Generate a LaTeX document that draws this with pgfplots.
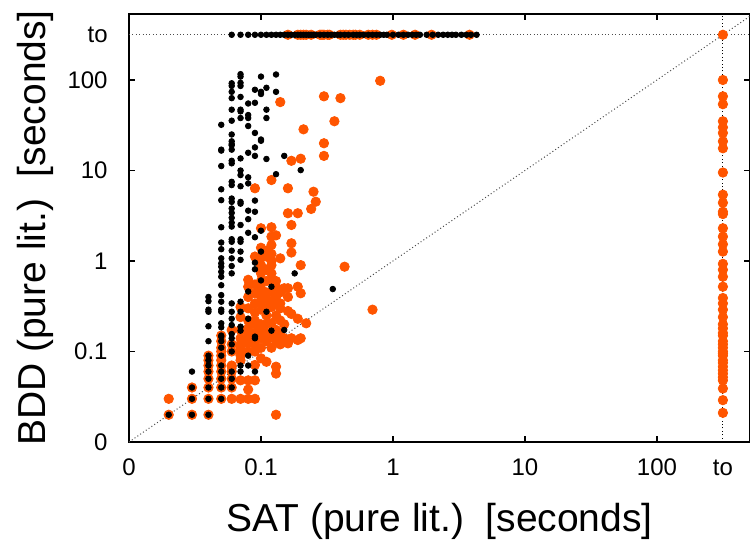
\documentclass[border=0pt]{standalone}
\usepackage{pgfplots}
\pgfplotsset{compat=1.18}
\usepackage{fontspec}
\setmainfont{Liberation Sans}
\definecolor{orangeP}{RGB}{255,85,0}
\begin{document}
\begin{tikzpicture}
\begin{axis}[
 scale only axis, width=310.5pt, height=214pt,
 xmode=log, ymode=log,
 xmin=0.01, xmax=507, ymin=0.01, ymax=536,
 xtick={0.01,0.1,1,10,100}, xticklabels={0,0.1,1,10,100},
 ytick={0.01,0.1,1,10,100}, yticklabels={0,0.1,1,10,100},
 extra x ticks={316}, extra x tick labels={to},
 extra y ticks={316}, extra y tick labels={to},
 extra tick style={major tick length=0pt},
 xminorticks=false, yminorticks=false,
 tick align=inside, major tick length=3pt,
 tick style={black, line width=0.6pt},
 axis line style={line width=0.75pt},
 ticklabel style={font=\fontsize{12}{14}\selectfont, inner sep=0pt},
 xticklabel style={anchor=base, yshift=-16.5pt},
 yticklabel style={anchor=east, xshift=-10.5pt},
 xlabel={SAT (pure lit.)\ \ [seconds]},
 ylabel={BDD (pure lit.)\ \ [seconds]},
 label style={font=\fontsize{19.5}{22}\selectfont},
 xlabel style={at={(axis description cs:0.5,-0.21)}, anchor=base},
 ylabel style={at={(axis description cs:-0.135,0.5)}, anchor=base},
]
\coordinate (sw) at (rel axis cs:0,0);
\coordinate (ne) at (rel axis cs:1,1);
% orange series (larger dots)
\addplot[only marks, mark=*, mark size=2.35pt, color=orangeP, mark options={fill=orangeP, draw=none}] coordinates {
(0.16,316) (0.19,316) (0.2,316) (0.21,316) (0.22,316) (0.24,316) (0.28,316) (0.29,316) (0.3,316) (0.32,316) (0.33,316) (0.4,316) (0.42,316) (0.44,316) (0.47,316) (0.5,316) (0.52,316) (0.56,316) (0.65,316) (0.7,316) (0.75,316) (0.98,316) (1.2,316) (1.47,316) (1.96,316) (3.8,316) (316,316)
(316,100) (316,66) (316,54) (316,35) (316,30) (316,26) (316,21) (316,17.6) (316,9.5) (316,5.4) (316,4.4) (316,3.5) (316,3.3) (316,2.3) (316,1.86) (316,1.53) (316,1.27) (316,0.93) (316,0.8) (316,0.67) (316,0.52) (316,0.39) (316,0.34) (316,0.29) (316,0.24) (316,0.2) (316,0.18) (316,0.16) (316,0.15) (316,0.13) (316,0.12) (316,0.11) (316,0.1) (316,0.095) (316,0.09) (316,0.08) (316,0.075) (316,0.068) (316,0.062) (316,0.057) (316,0.052) (316,0.048) (316,0.039) (316,0.029) (316,0.021)
(0.8,98) (0.14,57) (0.3,66) (0.4,63) (0.36,35) (0.21,28.5) (0.3,20)
(0.3,14.5) (0.17,12.8) (0.2,13.5) (0.12,7.85) (0.09,6.36) (0.16,6.36) (0.25,5.83) (0.26,4.52) (0.24,3.76) (0.16,3.37) (0.19,3.37) (0.17,2.5) (0.1,2.3) (0.12,2.36) (0.12,1.86) (0.13,1.92)
(0.12,1.5) (0.17,1.57) (0.17,1.24) (0.09,1.12) (0.14,1.07) (0.11,1.12) (0.1,0.90) (0.2,0.90) (0.43,0.865) (0.1,0.73) (0.12,0.73) (0.08,0.62) (0.12,0.62) (0.13,0.52) (0.16,0.50) (0.19,0.52) (0.2,0.44) (0.08,0.52) (0.08,0.40) (0.09,0.44) (0.09,0.34) (0.1,0.29) (0.12,0.31) (0.14,0.34) (0.13,0.25) (0.17,0.26) (0.07,0.31) (0.07,0.24) (0.08,0.22) (0.09,0.22) (0.12,0.205) (0.19,0.23) (0.22,0.205) (0.13,0.173) (0.11,0.16) (0.07,0.173) (0.06,0.173) (0.08,0.152) (0.17,0.14) (0.2,0.14) (0.7,0.29)
(0.11,0.146) (0.13,0.146) (0.16,0.123) (0.19,0.134) (0.08,0.123) (0.09,0.118) (0.1,0.084) (0.11,0.077) (0.13,0.068) (0.13,0.057) (0.09,0.071) (0.08,0.048) (0.09,0.048) (0.07,0.048) (0.08,0.038) (0.06,0.068) (0.06,0.1) (0.06,0.12) (0.05,0.1) (0.05,0.11) (0.05,0.13) (0.05,0.15)
(0.02,0.02) (0.03,0.02) (0.04,0.02) (0.02,0.03) (0.03,0.03) (0.03,0.04) (0.04,0.03) (0.04,0.04) (0.04,0.05) (0.04,0.06) (0.04,0.07) (0.04,0.08) (0.04,0.09) (0.05,0.03) (0.05,0.04) (0.05,0.05) (0.05,0.06) (0.05,0.07) (0.05,0.08) (0.05,0.09) (0.06,0.03) (0.06,0.04) (0.06,0.05) (0.06,0.06) (0.06,0.07) (0.07,0.03) (0.08,0.03) (0.09,0.03) (0.13,0.02) (0.07,0.1) (0.07,0.12) (0.07,0.14)
(0.07,0.09) (0.07,0.08) (0.07,0.11) (0.08,0.1) (0.08,0.13) (0.09,0.1) (0.09,0.13) (0.1,0.11) (0.1,0.14) (0.1,0.18) (0.11,0.2) (0.11,0.25) (0.1,0.35) (0.1,0.4) (0.11,0.45) (0.1,0.5) (0.11,0.6) (0.12,0.45) (0.13,0.4) (0.14,0.45) (0.15,0.5) (0.12,0.35) (0.1,0.2) (0.09,0.2) (0.08,0.18) (0.09,0.16) (0.11,0.3) (0.12,1.0) (0.11,0.8) (0.1,0.6) (0.12,0.9) (0.14,0.22) (0.15,0.2) (0.16,0.28) (0.14,0.3) (0.13,0.35) (0.11,0.38) (0.09,0.27) (0.08,0.3) (0.13,0.13) (0.12,0.11) (0.14,0.12) (0.15,0.14) (0.14,0.16) (0.1,0.16) (0.11,0.13) (0.12,0.15) (0.16,0.4) (0.13,0.6)
(0.1,1.4) (0.11,1.3) (0.1,1.1) (0.12,1.2) (0.1,0.8) (0.09,0.55)
};
% black series (small dots)
\addplot[only marks, mark=*, mark size=1.4pt, color=black, mark options={fill=black, draw=none}] coordinates {
(0.06,316) (0.07,316) (0.08,316) (0.09,316) (0.1,316) (0.11,316) (0.12,316) (0.13,316) (0.14,316) (0.15,316) (0.16,316) (0.17,316) (0.18,316) (0.19,316) (0.2,316) (0.21,316) (0.22,316) (0.23,316) (0.24,316) (0.25,316) (0.26,316) (0.28,316) (0.3,316) (0.32,316) (0.34,316) (0.36,316) (0.38,316) (0.4,316) (0.43,316) (0.46,316) (0.5,316) (0.53,316) (0.56,316) (0.6,316) (0.65,316) (0.7,316) (0.75,316) (0.8,316) (0.85,316) (0.9,316) (1.0,316) (1.1,316) (1.2,316) (1.3,316) (1.4,316) (1.5,316) (1.6,316) (1.8,316) (2.0,316) (2.2,316) (2.4,316) (2.6,316) (2.8,316) (3.0,316) (3.3,316) (3.6,316) (3.9,316) (4.3,316)
(0.07,116) (0.07,109) (0.1,109) (0.13,115)
(0.06,92) (0.07,93) (0.06,86) (0.07,86) (0.11,82) (0.09,78) (0.1,74) (0.1,70) (0.13,74)
(0.06,74) (0.06,63) (0.07,65) (0.09,56) (0.08,55)
(0.06,47) (0.07,47) (0.07,45) (0.11,47) (0.08,41) (0.08,38) (0.07,38) (0.11,38) (0.06,35.5) (0.05,32) (0.08,31) (0.09,26) (0.06,25) (0.1,22) (0.06,21) (0.06,19.6) (0.09,18) (0.05,17) (0.06,17)
(0.06,19) (0.1,21.3) (0.05,16.6) (0.08,15.7) (0.07,13.6) (0.09,14.5) (0.11,13.4) (0.15,14.5) (0.05,11.2) (0.06,12.8) (0.06,12) (0.07,10) (0.07,8.9) (0.08,8.4) (0.08,7.2) (0.06,7.5) (0.06,6.9) (0.07,6.7) (0.13,9.1) (0.2,10.1) (0.05,6.2) (0.05,4.7) (0.06,4.9) (0.06,4.5) (0.07,4.5) (0.07,4.3) (0.09,4.65) (0.06,3.8) (0.06,3.4) (0.06,3.0) (0.08,3.6) (0.09,3.5) (0.08,2.9) (0.06,2.65) (0.07,2.5) (0.06,2.4) (0.05,2.36) (0.1,2.16) (0.08,2.05) (0.09,1.83) (0.06,1.74) (0.07,1.74)
(0.05,1.6) (0.06,1.63) (0.07,1.63) (0.05,1.35) (0.06,1.3) (0.07,1.27) (0.1,1.27) (0.05,1.07) (0.06,1.07) (0.07,1.03) (0.05,0.94) (0.05,0.865) (0.06,0.88) (0.09,0.96) (0.09,0.81) (0.06,0.73) (0.05,0.76) (0.05,0.67) (0.18,0.73) (0.1,0.61) (0.12,0.52) (0.05,0.54) (0.08,0.46) (0.35,0.49) (0.04,0.40) (0.04,0.36) (0.05,0.42) (0.05,0.355) (0.04,0.29) (0.04,0.275) (0.05,0.29) (0.05,0.275) (0.06,0.34) (0.07,0.355) (0.06,0.275) (0.07,0.275) (0.11,0.275) (0.06,0.23) (0.08,0.23) (0.04,0.19) (0.05,0.205) (0.05,0.185) (0.06,0.196) (0.07,0.188) (0.07,0.17) (0.15,0.173) (0.09,0.146) (0.05,0.146) (0.06,0.156) (0.12,0.17)
(0.02,0.02) (0.03,0.02) (0.04,0.02) (0.03,0.03) (0.03,0.04) (0.03,0.06) (0.04,0.03) (0.04,0.04) (0.04,0.05) (0.04,0.06) (0.04,0.07) (0.04,0.08) (0.04,0.09) (0.04,0.13) (0.05,0.03) (0.05,0.04) (0.05,0.05) (0.05,0.06) (0.05,0.07) (0.05,0.09) (0.05,0.11) (0.05,0.13) (0.05,0.15) (0.06,0.04) (0.06,0.05) (0.06,0.06) (0.06,0.1) (0.06,0.12) (0.06,0.14) (0.07,0.06) (0.07,0.07) (0.08,0.07) (0.08,0.09) (0.09,0.06) (0.09,0.14)
};
% diagonal and timeout lines
\addplot[black!70, line width=0.5pt, dash pattern=on 0.5pt off 1.2pt] coordinates {(0.01,0.01) (536,536)};
\addplot[black!70, line width=0.5pt, dash pattern=on 0.5pt off 1.2pt] coordinates {(0.01,316) (507,316)};
\addplot[black, line width=0.5pt, dash pattern=on 0.5pt off 1.2pt] coordinates {(316,0.01) (316,536)};
\end{axis}
\pgfresetboundingbox
\path[use as bounding box] ([shift={(-64.5pt,-49.5pt)}]sw) rectangle ([shift={(0pt,7pt)}]ne);
\end{tikzpicture}
\end{document}
